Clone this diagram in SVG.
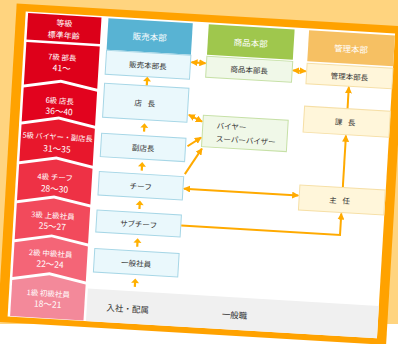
<svg xmlns="http://www.w3.org/2000/svg" width="398" height="344" viewBox="0 0 398 344">
<defs>
<style>
.t{font-family:"Noto Sans CJK JP","Noto Sans",sans-serif;font-size:7.5px;fill:#333;text-anchor:middle;dominant-baseline:central}
.w{fill:#fff;font-size:7.5px}
.n{fill:#fff;font-size:8.5px}
.h{fill:#fff;font-size:8.5px}
.bb{fill:#EAF8FC;stroke:#A6D6E6;stroke-width:1}
.gb{fill:#F0F8E8;stroke:#C6E0A6;stroke-width:1}
.ob{fill:#FFF6DA;stroke:#F6DFA6;stroke-width:1}
.ln{fill:none;stroke:#FFAA00;stroke-width:2}
.ua{fill:#FFB000}
</style>
<marker id="ah" viewBox="0 0 8 8" refX="7" refY="4" markerWidth="7" markerHeight="7" markerUnits="userSpaceOnUse" orient="auto-start-reverse"><path d="M0,0 L8,4 L0,8 z" fill="#FFAA00"/></marker>
<path id="up" d="M0,-4.5 L4,0 L1.1,0 L1.1,4 L-1.1,4 L-1.1,0 L-4,0 Z"/>
</defs>
<rect x="0" y="0" width="398" height="324" fill="#FFD47F"/>
<g transform="rotate(3.4 199 172)">
<rect x="7" y="14.5" width="389" height="319" fill="#FFA200"/>
<rect x="16.5" y="22" width="370" height="305.5" fill="#fff"/>
<rect x="95" y="295" width="291.5" height="32.5" fill="#F0F0F0"/>

<g id="grade-column">
<rect x="19" y="23.5" width="73.5" height="26.5" fill="#DC0019"/>
<polygon points="19,52.5 92.5,52.5 92.5,95 55.75,88 19,95" fill="#DE001A"/>
<polygon points="19,98 55.75,91 92.5,98 92.5,132 55.75,125 19,132" fill="#E2031E"/>
<polygon points="19,135 55.75,128 92.5,135 92.5,172 55.75,165 19,172" fill="#E8172C"/>
<polygon points="19,175 55.75,168 92.5,175 92.5,211 55.75,204 19,211" fill="#EE3145"/>
<polygon points="19,214 55.75,207 92.5,214 92.5,250 55.75,243 19,250" fill="#F24A5C"/>
<polygon points="19,253 55.75,246 92.5,253 92.5,288 55.75,281 19,288" fill="#F46577"/>
<polygon points="19,291 55.75,284 92.5,291 92.5,327 19,327" fill="#F3899A"/>
<text class="t w" x="55.75" y="31" style="font-size:8px">等級</text>
<text class="t w" x="55.75" y="43" style="font-size:8px">標準年齢</text>
<text class="t w" x="55.75" y="65">7級 部長</text>
<text class="t n" x="55.75" y="75.5">41〜</text>
<text class="t w" x="55.75" y="108.5">6級 店長</text>
<text class="t n" x="55.75" y="119">36〜40</text>
<text class="t w" x="55.75" y="145" style="font-size:7.2px">5級 バイヤー・副店長</text>
<text class="t n" x="55.75" y="156.5">31〜35</text>
<text class="t w" x="55.75" y="185">4級 チーフ</text>
<text class="t n" x="55.75" y="196.5">28〜30</text>
<text class="t w" x="55.75" y="223.5">3級 上級社員</text>
<text class="t n" x="55.75" y="234">25〜27</text>
<text class="t w" x="55.75" y="261.5">2級 中級社員</text>
<text class="t n" x="55.75" y="272">22〜24</text>
<text class="t w" x="55.75" y="301.5">1級 初級社員</text>
<text class="t n" x="55.75" y="312">18〜21</text>
</g>

<g id="hdr-sales"><rect x="99.5" y="24" width="84.5" height="31.5" fill="#58B3D3"/><text class="t h" x="141.75" y="39.5">販売本部</text></g>
<g id="hdr-goods"><rect x="200" y="24" width="86" height="30.5" fill="#9FC74D"/><text class="t h" x="243" y="39.5">商品本部</text></g>
<g id="hdr-admin"><rect x="300.5" y="24" width="86" height="31" fill="#F6C063"/><text class="t h" x="343.5" y="39.5">管理本部</text></g>

<g id="n-salesmgr"><rect class="bb" x="99.5" y="56" width="84.5" height="24"/><text class="t" x="141.75" y="68">販売本部長</text></g>
<g id="n-store"><rect class="bb" x="99.5" y="89" width="84.5" height="34"/><text class="t" x="141.75" y="106" letter-spacing="2">店 長</text></g>
<g id="n-vice"><rect class="bb" x="99.5" y="139" width="84.5" height="23.5"/><text class="t" x="141.75" y="150.75">副店長</text></g>
<g id="n-chief"><rect class="bb" x="99.5" y="177.5" width="84.5" height="23.5"/><text class="t" x="141.75" y="189.25">チーフ</text></g>
<g id="n-sub"><rect class="bb" x="99.5" y="216" width="84.5" height="22"/><text class="t" x="141.75" y="227">サブチーフ</text></g>
<g id="n-staff"><rect class="bb" x="99.5" y="254.5" width="84.5" height="23.5"/><text class="t" x="141.75" y="266.25">一般社員</text></g>

<g id="n-goodsmgr"><rect class="gb" x="200" y="56" width="86" height="21"/><text class="t" x="243" y="66.5">商品本部長</text></g>
<g id="n-buyer"><rect class="gb" x="200" y="115" width="85" height="31.5"/><text class="t" x="214" y="124" style="text-anchor:start">バイヤー</text><text class="t" x="214" y="137" style="text-anchor:start">スーパーバイザー</text></g>

<g id="n-adminmgr"><rect class="ob" x="300.5" y="57" width="86" height="20.5"/><text class="t" x="343.5" y="67.25">管理本部長</text></g>
<g id="n-section"><rect class="ob" x="300.5" y="100" width="86" height="26"/><text class="t" x="343" y="113" letter-spacing="2">課 長</text></g>
<g id="n-chiefadmin"><rect class="ob" x="300.5" y="179" width="85.5" height="25"/><text class="t" x="342" y="191.5" letter-spacing="2">主 任</text></g>

<g id="row-labels">
<text class="t" x="136" y="312" style="font-size:8.5px">入社・配属</text>
<text class="t" x="243" y="312" style="font-size:8.5px">一般職</text>
</g>

<g id="connectors">
<use href="#up" class="ua" x="141.75" y="84.5"/>
<use href="#up" class="ua" x="141.75" y="131"/>
<use href="#up" class="ua" x="141.75" y="170"/>
<use href="#up" class="ua" x="141.75" y="208.5"/>
<use href="#up" class="ua" x="141.75" y="246.25"/>
<use href="#up" class="ua" x="141.75" y="286.5"/>
<line class="ln" x1="185" y1="63" x2="199" y2="63" marker-start="url(#ah)" marker-end="url(#ah)"/>
<line class="ln" x1="287" y1="65" x2="299.5" y2="65" marker-start="url(#ah)" marker-end="url(#ah)"/>
<line class="ln" x1="343.5" y1="99.5" x2="343.5" y2="78.5" marker-end="url(#ah)"/>
<line class="ln" x1="343.5" y1="178.5" x2="343.5" y2="127" marker-end="url(#ah)"/>
<polyline class="ln" points="184.5,226.5 343.5,226.5 343.5,205" marker-end="url(#ah)"/>
<line class="ln" x1="185" y1="189.5" x2="299.5" y2="189.5" marker-start="url(#ah)" marker-end="url(#ah)"/>
<line class="ln" x1="185.5" y1="115.5" x2="199" y2="121.5" marker-start="url(#ah)" marker-end="url(#ah)"/>
<line class="ln" x1="186" y1="147" x2="199" y2="137.5" marker-end="url(#ah)"/>
<line class="ln" x1="185" y1="175" x2="200.5" y2="148.5" marker-end="url(#ah)"/>
</g>
</g>
</svg>
